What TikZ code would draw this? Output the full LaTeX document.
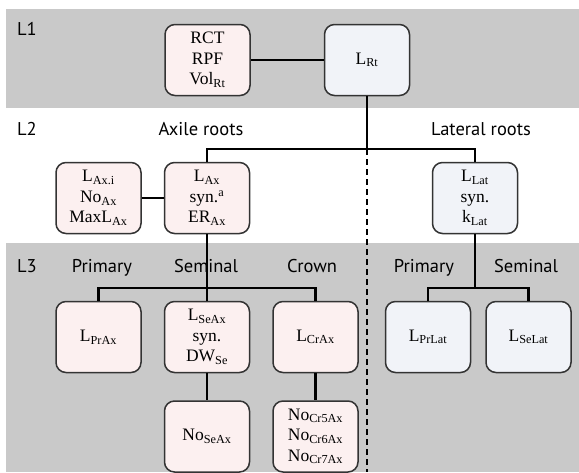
\documentclass[tikz,border=0pt]{standalone}
\usepackage{fontspec}
\setmainfont{Liberation Serif}
\newfontfamily\labelfont{PT Sans}
\usepackage{tikz}
\usetikzlibrary{positioning, backgrounds}

\definecolor{axfill}{HTML}{FCF0F0}
\definecolor{latfill}{HTML}{F1F3F8}
\definecolor{bandgray}{HTML}{C9C9C9}
\newcommand{\sbs}[1]{\textsubscript{#1}}

\begin{document}
\begin{tikzpicture} [
    x=1pt, y=-1pt,
    axbox/.style={rectangle, rounded corners=10pt, draw=black!80, line width=1.5pt, fill=axfill, minimum width=85pt, minimum height=71pt, inner sep=1pt, align=center, font=\fontsize{17.5}{20.5}\selectfont},
    latbox/.style={axbox, fill=latfill},
    link/.style={line width=2.4pt, black},
    lvl/.style={font=\labelfont\fontsize{18.5}{20}\selectfont, inner sep=0pt, anchor=base},
    grp/.style={font=\labelfont\fontsize{18.5}{20}\selectfont, inner sep=0pt, anchor=base}
]
\useasboundingbox (0,0) rectangle (579,472);

% Define all nodes first (foreground)
\node[latbox] (lrt) at (367,60) {L\sbs{Rt}};
\node[axbox, left=73pt of lrt] (rct) {RCT\\RPF\\Vol\sbs{Rt}};

\node[axbox] (lax) at (207,198) {L\sbs{Ax}\\syn.\textsuperscript{a}\\ER\sbs{Ax}};
\node[axbox, left=22pt of lax] (laxi) {L\sbs{Ax.i}\\No\sbs{Ax}\\MaxL\sbs{Ax}};
\node[latbox] (llat) at (475,198) {L\sbs{Lat}\\syn.\\k\sbs{Lat}};

\node[axbox] (lseax) at (207,337) {L\sbs{SeAx}\\syn.\\DW\sbs{Se}};
\node[axbox, left=22pt of lseax] (lprax) {L\sbs{PrAx}};
\node[axbox, right=22pt of lseax] (lcrax) {L\sbs{CrAx}};
\node[axbox, below=27pt of lseax] (noseax) {No\sbs{SeAx}};
\node[axbox, below=27pt of lcrax] (nocr) {No\sbs{Cr5Ax}\\No\sbs{Cr6Ax}\\No\sbs{Cr7Ax}};

\node[latbox] (lprlat) at (428,337) {L\sbs{PrLat}};
\node[latbox, right=14pt of lprlat] (lselat) {L\sbs{SeLat}};

% Level and group labels (on their baselines)
\node[lvl] (l1) at (27,35) {L1};
\node[lvl] (l2) at (27,135) {L2};
\node[lvl] (l3) at (27,272) {L3};
\node[grp] (axile) at (201,135) {Axile roots};
\node[grp] (lateral) at (481,135) {Lateral roots};
\node[grp] (axpr) at (102,272) {Primary};
\node[grp] (axse) at (206,272) {Seminal};
\node[grp] (axcr) at (312,272) {Crown};
\node[grp] (latpr) at (424,272) {Primary};
\node[grp] (latse) at (526,272) {Seminal};

% Branch points
\coordinate (split1) at (367,149);
\coordinate (split2) at (207,288);
\coordinate (split3) at (475,288);
\coordinate (dashend) at (367,472);

% Connectors
\draw[link] (rct) -- (lrt);
\draw[link] (lrt) -- (split1);
\draw[link] (lax) |- (split1) -| (llat);
\draw[link] (laxi) -- (lax);
\draw[link] (lax) -- (lseax);
\draw[link] (lprax) |- (split2) -| (lcrax);
\draw[link] (lseax) -- (noseax);
\draw[link] (lcrax) -- (nocr);
\draw[link] (llat) -- (split3);
\draw[link] (lprlat) |- (split3) -| (lselat);
\draw[line width=1.6pt, dash pattern=on 6pt off 4pt] (split1) -- (dashend);

% Grey level bands in background
\begin{scope}[on background layer]
    \fill[bandgray] (6,9) rectangle (579,108);
    \fill[bandgray] (6,243) rectangle (579,472);
\end{scope}

\end{tikzpicture}
\end{document}
